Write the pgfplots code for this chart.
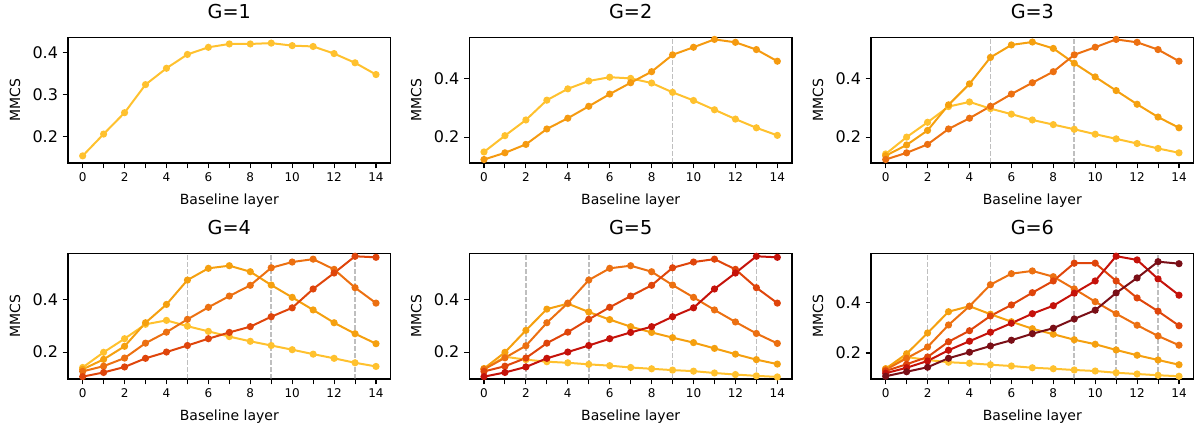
\documentclass[border=0pt]{standalone}
\usepackage{fontspec}
\setmainfont{DejaVu Sans}
\usepackage{pgfplots}
\pgfplotsset{compat=1.18}

% series colours, light to dark
\definecolor{c1}{HTML}{FFC12E}
\definecolor{c2}{HTML}{F59A10}
\definecolor{c2b}{HTML}{F5A00F}
\definecolor{c3}{HTML}{EC7011}
\definecolor{c4}{HTML}{DF450B}
\definecolor{c5}{HTML}{C5120A}
\definecolor{c6}{HTML}{7A0F17}

\tikzset{sepline/.style={gray, opacity=0.5, line width=1.25pt, dash pattern=on 3.75pt off 1.5pt}}

\pgfplotsset{
  panel/.style={
    width=242pt, height=94pt, scale only axis,
    xmin=-0.7, xmax=14.7,
    xtick={0,...,14},
    xticklabels={0,,2,,4,,6,,8,,10,,12,,14},
    tick align=outside, major tick length=4pt,
    xtick pos=bottom, ytick pos=left,
    axis line style={line width=0.8pt},
    every tick/.style={black, line width=0.8pt},
    /pgf/number format/assume math mode=true,
    /pgf/number format/fixed, /pgf/number format/fixed zerofill,
    /pgf/number format/precision=1,
    xticklabel style={font=\fontsize{9}{10}\selectfont},
    yticklabel style={font=\fontsize{12}{13}\selectfont},
    title style={at={(0.5,1)}, anchor=center, yshift=13.3pt, font=\fontsize{14.4}{16}\selectfont},
    every axis x label/.style={at={(axis description cs:0.5,0)}, yshift=-28.5pt, anchor=center, font=\fontsize{10.5}{12}\selectfont},
    every axis y label/.style={at={(axis description cs:0,0.5)}, xshift=-39.7pt, rotate=90, anchor=center, font=\fontsize{10.5}{12}\selectfont},
    xlabel={Baseline layer}, ylabel={MMCS},
    every axis plot/.append style={line width=1.5pt, mark=*, mark size=1.9pt},
  },
}
% dashed boundary at a given layer, spanning the full axis height
\newcommand{\vsep}[1]{\draw[sepline] ({axis cs:#1,0} |- {rel axis cs:0,0}) -- ({axis cs:#1,0} |- {rel axis cs:0,1});}

\begin{document}
\begin{tikzpicture}
\useasboundingbox (0,0) rectangle (897.75pt,321pt);

% ---------------- G=1
\begin{axis}[panel, at={(51pt,198.75pt)}, anchor=south west, title={G=1},
  ymin=0.137, ymax=0.436, ytick={0.2,0.3,0.4}]
\addplot[c1] coordinates {(0,0.154)(1,0.206)(2,0.257)(3,0.324)(4,0.363)(5,0.396)(6,0.413)(7,0.421)(8,0.421)(9,0.423)(10,0.417)(11,0.415)(12,0.398)(13,0.376)(14,0.348)};
\end{axis}

% ---------------- G=2
\begin{axis}[panel, at={(352pt,198.75pt)}, anchor=south west, title={G=2},
  ymin=0.111, ymax=0.542, ytick={0.2,0.4}]
\addplot[c1] coordinates {(0,0.149)(1,0.205)(2,0.259)(3,0.327)(4,0.366)(5,0.393)(6,0.406)(7,0.402)(8,0.386)(9,0.354)(10,0.326)(11,0.294)(12,0.262)(13,0.232)(14,0.206)};
\addplot[c2] coordinates {(0,0.123)(1,0.146)(2,0.175)(3,0.228)(4,0.265)(5,0.306)(6,0.348)(7,0.387)(8,0.425)(9,0.483)(10,0.509)(11,0.536)(12,0.526)(13,0.501)(14,0.461)};
\vsep{9}
\end{axis}

% ---------------- G=3
\begin{axis}[panel, at={(653.25pt,198.75pt)}, anchor=south west, title={G=3},
  ymin=0.111, ymax=0.542, ytick={0.2,0.4}]
\addplot[c1] coordinates {(0,0.142)(1,0.200)(2,0.251)(3,0.305)(4,0.321)(5,0.298)(6,0.279)(7,0.259)(8,0.243)(9,0.227)(10,0.210)(11,0.194)(12,0.178)(13,0.161)(14,0.146)};
\addplot[c2b] coordinates {(0,0.136)(1,0.173)(2,0.223)(3,0.311)(4,0.383)(5,0.474)(6,0.517)(7,0.527)(8,0.505)(9,0.454)(10,0.407)(11,0.360)(12,0.313)(13,0.269)(14,0.232)};
\addplot[c3] coordinates {(0,0.123)(1,0.146)(2,0.175)(3,0.228)(4,0.265)(5,0.306)(6,0.348)(7,0.387)(8,0.425)(9,0.483)(10,0.509)(11,0.536)(12,0.526)(13,0.501)(14,0.461)};
\vsep{5}\vsep{9}
\end{axis}

% ---------------- G=4
\begin{axis}[panel, at={(51pt,36.75pt)}, anchor=south west, title={G=4},
  ymin=0.097, ymax=0.576, ytick={0.2,0.4}]
\addplot[c1] coordinates {(0,0.141)(1,0.199)(2,0.251)(3,0.306)(4,0.321)(5,0.299)(6,0.279)(7,0.259)(8,0.241)(9,0.225)(10,0.209)(11,0.192)(12,0.176)(13,0.159)(14,0.145)};
\addplot[c2b] coordinates {(0,0.134)(1,0.172)(2,0.222)(3,0.312)(4,0.382)(5,0.475)(6,0.520)(7,0.530)(8,0.507)(9,0.456)(10,0.409)(11,0.361)(12,0.312)(13,0.270)(14,0.232)};
\addplot[c3] coordinates {(0,0.126)(1,0.146)(2,0.177)(3,0.234)(4,0.276)(5,0.325)(6,0.371)(7,0.414)(8,0.455)(9,0.522)(10,0.544)(11,0.555)(12,0.516)(13,0.446)(14,0.387)};
\addplot[c4] coordinates {(0,0.106)(1,0.122)(2,0.143)(3,0.176)(4,0.200)(5,0.225)(6,0.251)(7,0.275)(8,0.297)(9,0.335)(10,0.369)(11,0.441)(12,0.502)(13,0.566)(14,0.562)};
\vsep{5}\vsep{9}\vsep{13}
\end{axis}

% ---------------- G=5
\begin{axis}[panel, at={(352pt,36.75pt)}, anchor=south west, title={G=5},
  ymin=0.097, ymax=0.576, ytick={0.2,0.4}]
\addplot[c1] coordinates {(0,0.135)(1,0.182)(2,0.171)(3,0.163)(4,0.159)(5,0.153)(6,0.148)(7,0.141)(8,0.136)(9,0.131)(10,0.127)(11,0.120)(12,0.114)(13,0.109)(14,0.105)};
\addplot[c2b] coordinates {(0,0.137)(1,0.199)(2,0.283)(3,0.364)(4,0.385)(5,0.353)(6,0.324)(7,0.297)(8,0.275)(9,0.255)(10,0.236)(11,0.214)(12,0.192)(13,0.171)(14,0.154)};
\addplot[c3] coordinates {(0,0.134)(1,0.178)(2,0.224)(3,0.312)(4,0.387)(5,0.475)(6,0.520)(7,0.530)(8,0.507)(9,0.456)(10,0.409)(11,0.361)(12,0.315)(13,0.271)(14,0.233)};
\addplot[c4] coordinates {(0,0.126)(1,0.146)(2,0.177)(3,0.234)(4,0.276)(5,0.325)(6,0.371)(7,0.414)(8,0.455)(9,0.522)(10,0.544)(11,0.555)(12,0.516)(13,0.446)(14,0.387)};
\addplot[c5] coordinates {(0,0.106)(1,0.122)(2,0.143)(3,0.176)(4,0.200)(5,0.225)(6,0.251)(7,0.275)(8,0.297)(9,0.335)(10,0.369)(11,0.441)(12,0.502)(13,0.566)(14,0.562)};
\vsep{2}\vsep{5}\vsep{9}\vsep{13}
\end{axis}

% ---------------- G=6
\begin{axis}[panel, at={(653.25pt,36.75pt)}, anchor=south west, title={G=6},
  ymin=0.096, ymax=0.597, ytick={0.2,0.4}]
\addplot[c1] coordinates {(0,0.137)(1,0.184)(2,0.172)(3,0.163)(4,0.159)(5,0.153)(6,0.148)(7,0.141)(8,0.137)(9,0.132)(10,0.128)(11,0.121)(12,0.116)(13,0.111)(14,0.107)};
\addplot[c2b] coordinates {(0,0.137)(1,0.197)(2,0.280)(3,0.365)(4,0.387)(5,0.355)(6,0.325)(7,0.297)(8,0.275)(9,0.253)(10,0.235)(11,0.212)(12,0.191)(13,0.172)(14,0.153)};
\addplot[c3] coordinates {(0,0.133)(1,0.179)(2,0.224)(3,0.312)(4,0.387)(5,0.473)(6,0.517)(7,0.528)(8,0.505)(9,0.456)(10,0.405)(11,0.357)(12,0.311)(13,0.268)(14,0.231)};
\addplot[c4] coordinates {(0,0.128)(1,0.155)(2,0.184)(3,0.245)(4,0.289)(5,0.348)(6,0.392)(7,0.441)(8,0.488)(9,0.559)(10,0.559)(11,0.488)(12,0.420)(13,0.367)(14,0.309)};
\addplot[c5] coordinates {(0,0.119)(1,0.141)(2,0.168)(3,0.211)(4,0.247)(5,0.283)(6,0.319)(7,0.357)(8,0.389)(9,0.439)(10,0.488)(11,0.587)(12,0.572)(13,0.496)(14,0.431)};
\addplot[c6] coordinates {(0,0.107)(1,0.125)(2,0.143)(3,0.179)(4,0.203)(5,0.228)(6,0.251)(7,0.277)(8,0.299)(9,0.336)(10,0.371)(11,0.440)(12,0.500)(13,0.565)(14,0.557)};
\vsep{2}\vsep{5}\vsep{9}\vsep{11}\vsep{13}
\end{axis}
\end{tikzpicture}
\end{document}
